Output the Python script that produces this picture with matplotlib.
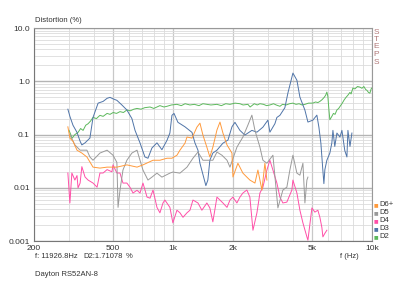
import numpy as np
import matplotlib
matplotlib.use("Agg")
import matplotlib.pyplot as plt
from matplotlib.ticker import FixedLocator, NullFormatter

# Datos (frecuencia en Hz, distorsion en %)
f_d2 = [300, 306, 310, 314, 321, 333, 343, 353, 364, 374, 385, 396, 412, 429, 445, 466, 482, 500,
        520, 541, 563, 586, 610, 635, 659, 690, 720, 766, 800, 859, 900, 932, 980, 1046, 1100, 1150,
        1216, 1280, 1350, 1413, 1480, 1550, 1662, 1750, 1840, 1932, 2050, 2168, 2250, 2378, 2440, 2490,
        2560, 2650, 2733, 2850, 2950, 3067, 3200, 3300, 3444, 3550, 3700, 3850, 4004, 4150, 4300, 4450,
        4600, 4800, 5046, 5200, 5350, 5470, 5600, 5750, 5850, 5931, 6000, 6070, 6140, 6283, 6400, 6520,
        6661, 6800, 6950, 7060, 7250, 7400, 7568, 7745, 7850, 8017, 8200, 8450, 8692, 8900, 9100, 9300,
        9424, 9600, 9758, 9900, 9980]
v_d2 = [0.12, 0.10, 0.085, 0.09, 0.10, 0.11, 0.13, 0.12, 0.15, 0.16, 0.18, 0.21, 0.20, 0.23, 0.22,
        0.25, 0.24, 0.26, 0.25, 0.27, 0.26, 0.29, 0.28, 0.30, 0.31, 0.30, 0.32, 0.33, 0.31, 0.35, 0.33,
        0.34, 0.36, 0.37, 0.35, 0.38, 0.36, 0.37, 0.35, 0.38, 0.37, 0.36, 0.37, 0.35, 0.38, 0.37, 0.39,
        0.38, 0.36, 0.37, 0.33, 0.35, 0.38, 0.36, 0.38, 0.37, 0.35, 0.36, 0.38, 0.36, 0.34, 0.37, 0.36,
        0.38, 0.39, 0.37, 0.38, 0.36, 0.37, 0.39, 0.39, 0.41, 0.40, 0.42, 0.45, 0.50, 0.55, 0.63, 0.52,
        0.30, 0.19, 0.22, 0.25, 0.24, 0.29, 0.31, 0.35, 0.38, 0.45, 0.50, 0.55, 0.62, 0.58, 0.75, 0.72,
        0.80, 0.78, 0.74, 0.80, 0.70, 0.68, 0.62, 0.60, 0.72, 0.75]

f_d3 = [296, 303, 314, 329, 341, 348, 361, 382, 396, 420, 445, 466, 482, 499, 522, 553, 586, 621, 644,
        682, 722, 748, 783, 830, 879, 932, 964, 987, 1011, 1058, 1148, 1245, 1288, 1334, 1365, 1462,
        1496, 1531, 1585, 1662, 1781, 1888, 1977, 2047, 2168, 2296, 2490, 2640, 2829, 2997, 3067, 3250,
        3326, 3444, 3648, 3777, 4004, 4193, 4341, 4600, 4763, 5046, 5283, 5408, 5534, 5664, 5730, 5796,
        5931, 6140, 6283, 6362, 6500, 6661, 6900, 7060, 7300, 7480, 7568, 7750, 7925]
v_d3 = [0.30, 0.22, 0.15, 0.11, 0.075, 0.064, 0.07, 0.086, 0.21, 0.39, 0.42, 0.48, 0.50, 0.47, 0.44,
        0.36, 0.29, 0.20, 0.12, 0.07, 0.038, 0.036, 0.056, 0.07, 0.052, 0.078, 0.107, 0.23, 0.25, 0.17,
        0.14, 0.11, 0.07, 0.051, 0.029, 0.011, 0.014, 0.033, 0.045, 0.051, 0.069, 0.079, 0.14, 0.17,
        0.12, 0.098, 0.12, 0.111, 0.138, 0.187, 0.111, 0.16, 0.21, 0.23, 0.32, 0.60, 1.43, 1.05, 0.506,
        0.288, 0.172, 0.187, 0.232, 0.138, 0.069, 0.021, 0.012, 0.022, 0.033, 0.045, 0.07, 0.12, 0.06,
        0.107, 0.09, 0.12, 0.05, 0.038, 0.12, 0.06, 0.107]

f_d4 = [296, 303, 310, 321, 329, 333, 341, 348, 361, 374, 396, 415, 429, 445, 466, 493, 499, 522, 541,
        560, 586, 607, 629, 659, 682, 706, 740, 766, 793, 830, 859, 890, 910, 964, 998, 1046, 1083, 1122,
        1175, 1216, 1259, 1334, 1396, 1479, 1531, 1585, 1662, 1721, 1781, 1867, 1932, 2000, 2094, 2168,
        2244, 2350, 2433, 2521, 2640, 2733, 2829, 2963, 3067, 3176, 3326, 3444, 3565, 3733, 3956, 4004,
        4193, 4341, 4495, 4707, 4763, 4988, 5163, 5345, 5470, 5598, 5664, 5796, 5931]
v_d4 = [0.019, 0.0052, 0.019, 0.014, 0.017, 0.010, 0.0123, 0.025, 0.016, 0.014, 0.0123, 0.0103, 0.019,
        0.019, 0.022, 0.020, 0.027, 0.019, 0.019, 0.0123, 0.0123, 0.0103, 0.008, 0.009, 0.008, 0.0123,
        0.0067, 0.0064, 0.0091, 0.0043, 0.0034, 0.0052, 0.0059, 0.0043, 0.0022, 0.0038, 0.0034, 0.0028,
        0.0034, 0.0038, 0.0059, 0.0052, 0.0038, 0.0052, 0.0042, 0.0023, 0.0067, 0.0059, 0.0052, 0.0043,
        0.0059, 0.0067, 0.0052, 0.0067, 0.008, 0.0091, 0.0067, 0.0016, 0.0034, 0.008, 0.0103, 0.0216,
        0.033, 0.0216, 0.0123, 0.0067, 0.0052, 0.0054, 0.0091, 0.014, 0.008, 0.0038, 0.0022, 0.0012,
        0.00104, 0.0042, 0.0035, 0.0038, 0.0028, 0.0018, 0.0012, 0.0014, 0.0016]

f_d5 = [303, 321, 341, 369, 382, 396, 429, 466, 499, 522, 529, 541, 560, 586, 621, 659, 682, 706, 748,
        783, 830, 879, 964, 998, 1083, 1175, 1259, 1334, 1413, 1585, 1662, 1761, 1867, 1932, 2094, 2244,
        2378, 2490, 2580, 2733, 2829, 2963, 3176, 3365, 3565, 3733, 3865, 4004, 4193, 4341, 4495, 4600,
        4707, 4763]
v_d5 = [0.10, 0.064, 0.051, 0.051, 0.038, 0.033, 0.045, 0.051, 0.041, 0.03, 0.0043, 0.009, 0.0216,
        0.033, 0.045, 0.051, 0.033, 0.0216, 0.014, 0.0159, 0.0189, 0.0159, 0.0189, 0.0198, 0.0189,
        0.0245, 0.036, 0.047, 0.033, 0.033, 0.047, 0.041, 0.033, 0.0245, 0.058, 0.09, 0.151, 0.232,
        0.12, 0.058, 0.033, 0.029, 0.041, 0.0042, 0.0091, 0.0103, 0.0216, 0.041, 0.0189, 0.0173, 0.029,
        0.0052, 0.014, 0.0159]

f_d6 = [296, 303, 314, 329, 348, 369, 396, 429, 466, 522, 586, 659, 706, 793, 859, 932, 987, 1046, 1083,
        1148, 1175, 1245, 1318, 1365, 1413, 1479, 1531, 1585, 1662, 1721, 1781, 1867, 1977, 2000, 2118,
        2244, 2350, 2433, 2580, 2670, 2797, 2895, 2963]
v_d6 = [0.14, 0.086, 0.075, 0.051, 0.045, 0.038, 0.0245, 0.0235, 0.0245, 0.0245, 0.027, 0.0245, 0.027,
        0.033, 0.033, 0.036, 0.036, 0.041, 0.051, 0.069, 0.09, 0.086, 0.138, 0.164, 0.098, 0.058, 0.038,
        0.058, 0.122, 0.172, 0.107, 0.064, 0.045, 0.016, 0.029, 0.0189, 0.0159, 0.014, 0.0123, 0.0216,
        0.0091, 0.029, 0.014]

series = [("D6+", f_d6, v_d6, "#ff9a3c"),
          ("D5", f_d5, v_d5, "#9a9a9a"),
          ("D4", f_d4, v_d4, "#ff4fa8"),
          ("D3", f_d3, v_d3, "#4f74a8"),
          ("D2", f_d2, v_d2, "#5cb85c")]

plt.rcParams['font.family'] = ['Liberation Sans', 'DejaVu Sans']
fig = plt.figure(figsize=(4.0, 2.81), dpi=100)
ax = fig.add_axes([0.085, 0.142, 0.845, 0.758])

# Curvas (D2 detras, luego D3, ...)
for nombre, f, v, c in reversed(series):
    ax.plot(f, v, color=c, lw=0.7)

ax.set_xscale('log')
ax.set_yscale('log')
ax.set_xlim(200, 10000)
ax.set_ylim(0.001, 10)

# Rejilla
xmin = [300, 400, 600, 700, 800, 900, 3000, 4000, 6000, 7000, 8000, 9000]
ax.xaxis.set_major_locator(FixedLocator([200, 500, 1000, 2000, 5000, 10000]))
ax.xaxis.set_minor_locator(FixedLocator(xmin))
ax.set_xticklabels(['200', '500', '1k', '2k', '5k', '10k'])
ax.xaxis.set_minor_formatter(NullFormatter())
ax.yaxis.set_major_locator(FixedLocator([0.001, 0.01, 0.1, 1, 10]))
ax.set_yticklabels(['0.001', '0.01', '0.1', '1.0', '10.0'])
ax.yaxis.set_minor_formatter(NullFormatter())
ax.grid(True, which='major', axis='y', color='#b4b4b4', lw=1.0)
ax.grid(True, which='minor', axis='y', color='#dcdcdc', lw=0.6)
ax.grid(True, which='major', axis='x', color='#c8c8c8', lw=0.9)
ax.grid(True, which='minor', axis='x', color='#e0e0e0', lw=0.7)
ax.set_axisbelow(True)
ax.tick_params(which='both', length=0, labelsize=6, colors='#333333', pad=3)
for s in ax.spines.values():
    s.set_color('#999999')
    s.set_linewidth(0.8)
ax.spines['left'].set_color('#777777')
ax.spines['bottom'].set_color('#777777')

# Textos
fs = 5.5
fig.text(35 / 400, 1 - 21 / 281, 'Distortion (%)', fontsize=fs, color='#333333', va='center')
fig.text(35 / 400, 1 - 257 / 281, 'f: 11926.8Hz', fontsize=fs, color='#333333', va='center')
fig.text(83 / 400, 1 - 257 / 281, 'D2:1.71078', fontsize=fs, color='#333333', va='center')
fig.text(126 / 400, 1 - 257 / 281, '%', fontsize=fs, color='#333333', va='center')
fig.text(35 / 400, 1 - 274 / 281, 'Dayton RS52AN-8', fontsize=fs, color='#333333', va='center')
fig.text(340 / 400, 1 - 257 / 281, 'f (Hz)', fontsize=fs, color='#333333', va='center')
for i, letra in enumerate('STEPS'):
    fig.text(376 / 400, 1 - (32 + i * 7.5) / 281, letra, fontsize=6, color='#b07878',
             ha='center', va='center')

# Leyenda a la derecha
for i, (nombre, f, v, c) in enumerate(series):
    y = 1 - (205 + i * 7.8) / 281
    fig.text(376 / 400, y, '\u25a0', fontsize=3.5, color=c, ha='center', va='center',
             family='DejaVu Sans')
    fig.text(379 / 400, y, nombre, fontsize=fs, color='#333333', va='center')

fig.savefig('out.png', dpi=100, facecolor='white')
